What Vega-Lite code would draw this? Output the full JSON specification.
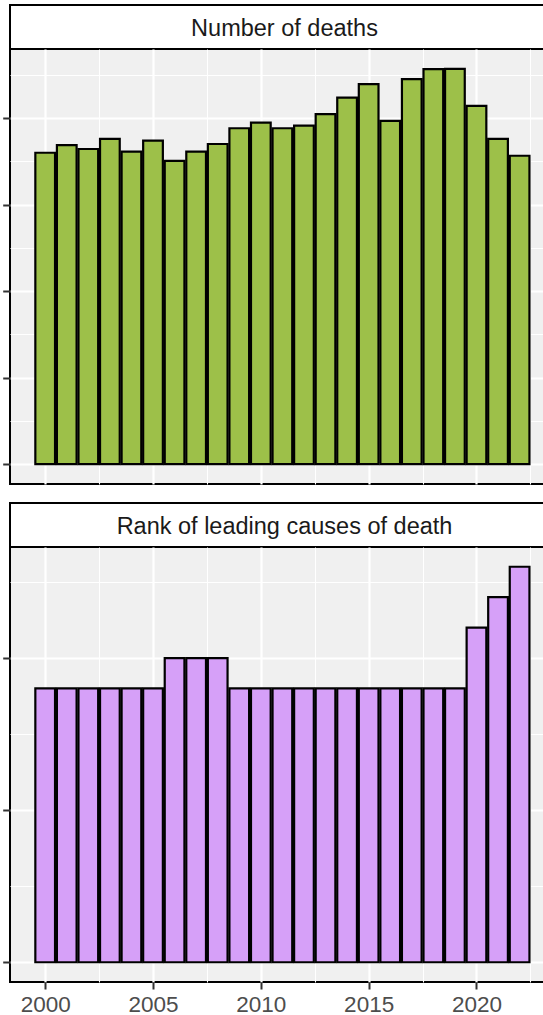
{
  "$schema": "https://vega.github.io/schema/vega-lite/v6.json",
  "background": "white",
  "padding": {"left": 0, "top": 4, "right": 0, "bottom": 0},
  "autosize": {"type": "pad"},
  "config": {
    "font": "Liberation Sans",
    "view": {"fill": "#F0F0F0", "stroke": "black", "strokeWidth": 2}
  },
  "datasets": {
    "deaths": [
      {"year": 2000, "deaths": 3599},
      {"year": 2001, "deaths": 3688},
      {"year": 2002, "deaths": 3642},
      {"year": 2003, "deaths": 3758},
      {"year": 2004, "deaths": 3611},
      {"year": 2005, "deaths": 3738},
      {"year": 2006, "deaths": 3506},
      {"year": 2007, "deaths": 3611},
      {"year": 2008, "deaths": 3700},
      {"year": 2009, "deaths": 3882},
      {"year": 2010, "deaths": 3947},
      {"year": 2011, "deaths": 3882},
      {"year": 2012, "deaths": 3912},
      {"year": 2013, "deaths": 4044},
      {"year": 2014, "deaths": 4236},
      {"year": 2015, "deaths": 4392},
      {"year": 2016, "deaths": 3966},
      {"year": 2017, "deaths": 4449},
      {"year": 2018, "deaths": 4565},
      {"year": 2019, "deaths": 4569},
      {"year": 2020, "deaths": 4140},
      {"year": 2021, "deaths": 3758},
      {"year": 2022, "deaths": 3564}
    ],
    "rank": [
      {"year": 2000, "rank": 9},
      {"year": 2001, "rank": 9},
      {"year": 2002, "rank": 9},
      {"year": 2003, "rank": 9},
      {"year": 2004, "rank": 9},
      {"year": 2005, "rank": 9},
      {"year": 2006, "rank": 10},
      {"year": 2007, "rank": 10},
      {"year": 2008, "rank": 10},
      {"year": 2009, "rank": 9},
      {"year": 2010, "rank": 9},
      {"year": 2011, "rank": 9},
      {"year": 2012, "rank": 9},
      {"year": 2013, "rank": 9},
      {"year": 2014, "rank": 9},
      {"year": 2015, "rank": 9},
      {"year": 2016, "rank": 9},
      {"year": 2017, "rank": 9},
      {"year": 2018, "rank": 9},
      {"year": 2019, "rank": 9},
      {"year": 2020, "rank": 11},
      {"year": 2021, "rank": 12},
      {"year": 2022, "rank": 13}
    ]
  },
  "spacing": 17,
  "vconcat": [
    {
      "bounds": "flush",
      "spacing": 0,
      "vconcat": [
        {
          "width": 549,
          "height": 44,
          "view": {"fill": "white", "stroke": "black", "strokeWidth": 2},
          "data": {"values": [{"label": "Number of deaths"}]},
          "mark": {"type": "text", "fontSize": 23.5, "color": "#1A1A1A", "baseline": "middle", "dy": 1.5},
          "encoding": {"text": {"field": "label"}}
        },
        {
          "width": 549,
          "height": 435,
          "data": {"name": "deaths"},
          "mark": {"type": "bar", "width": 19.7, "fill": "#9DC049", "stroke": "black", "strokeWidth": 2.2},
          "encoding": {
            "x": {
              "field": "year", "type": "quantitative",
              "scale": {"domain": [1998.6, 2023.595], "nice": false, "zero": false},
              "axis": {
                "title": null, "labels": false, "ticks": false, "domain": false,
                "values": [2000, 2002.5, 2005, 2007.5, 2010, 2012.5, 2015, 2017.5, 2020, 2022.5],
                "grid": true, "gridColor": "white", "gridOpacity": 1,
                "gridWidth": {"condition": {"test": "datum.value % 5 === 0", "value": 2.2}, "value": 1.1}
              }
            },
            "y": {
              "field": "deaths", "type": "quantitative",
              "scale": {"domain": [-228.5, 4797.5], "nice": false, "zero": false},
              "axis": {
                "title": null, "labels": false, "domain": false,
                "values": [0, 500, 1000, 1500, 2000, 2500, 3000, 3500, 4000, 4500],
                "ticks": true, "tickSize": 7.3, "tickWidth": 2, "tickColor": "#333333",
                "tickOpacity": {"condition": {"test": "datum.value % 1000 === 0", "value": 1}, "value": 0},
                "grid": true, "gridColor": "white", "gridOpacity": 1,
                "gridWidth": {"condition": {"test": "datum.value % 1000 === 0", "value": 2.2}, "value": 1.1}
              }
            },
            "y2": {"datum": 0}
          }
        }
      ]
    },
    {
      "bounds": "flush",
      "spacing": 0,
      "vconcat": [
        {
          "width": 549,
          "height": 44,
          "view": {"fill": "white", "stroke": "black", "strokeWidth": 2},
          "data": {"values": [{"label": "Rank of leading causes of death"}]},
          "mark": {"type": "text", "fontSize": 23.5, "color": "#1A1A1A", "baseline": "middle", "dy": 1.5},
          "encoding": {"text": {"field": "label"}}
        },
        {
          "width": 549,
          "height": 435,
          "data": {"name": "rank"},
          "mark": {"type": "bar", "width": 19.7, "fill": "#D6A0F8", "stroke": "black", "strokeWidth": 2.2},
          "encoding": {
            "x": {
              "field": "year", "type": "quantitative",
              "scale": {"domain": [1998.6, 2023.595], "nice": false, "zero": false},
              "axis": {
                "title": null, "domain": false,
                "values": [2000, 2002.5, 2005, 2007.5, 2010, 2012.5, 2015, 2017.5, 2020, 2022.5],
                "labelExpr": "datum.value % 5 === 0 ? format(datum.value, 'd') : ''",
                "labelFontSize": 22.5, "labelColor": "#4D4D4D", "labelPadding": 4,
                "labelFlush": false, "labelOverlap": false,
                "ticks": true, "tickSize": 7, "tickWidth": 2, "tickColor": "#333333",
                "tickOpacity": {"condition": {"test": "datum.value % 5 === 0", "value": 1}, "value": 0},
                "grid": true, "gridColor": "white", "gridOpacity": 1,
                "gridWidth": {"condition": {"test": "datum.value % 5 === 0", "value": 2.2}, "value": 1.1}
              }
            },
            "y": {
              "field": "rank", "type": "quantitative",
              "scale": {"domain": [-0.65, 13.65], "nice": false, "zero": false},
              "axis": {
                "title": null, "labels": false, "domain": false,
                "values": [0, 2.5, 5, 7.5, 10, 12.5],
                "ticks": true, "tickSize": 7.3, "tickWidth": 2, "tickColor": "#333333",
                "tickOpacity": {"condition": {"test": "datum.value % 5 === 0", "value": 1}, "value": 0},
                "grid": true, "gridColor": "white", "gridOpacity": 1,
                "gridWidth": {"condition": {"test": "datum.value % 5 === 0", "value": 2.2}, "value": 1.1}
              }
            },
            "y2": {"datum": 0}
          }
        }
      ]
    }
  ]
}
